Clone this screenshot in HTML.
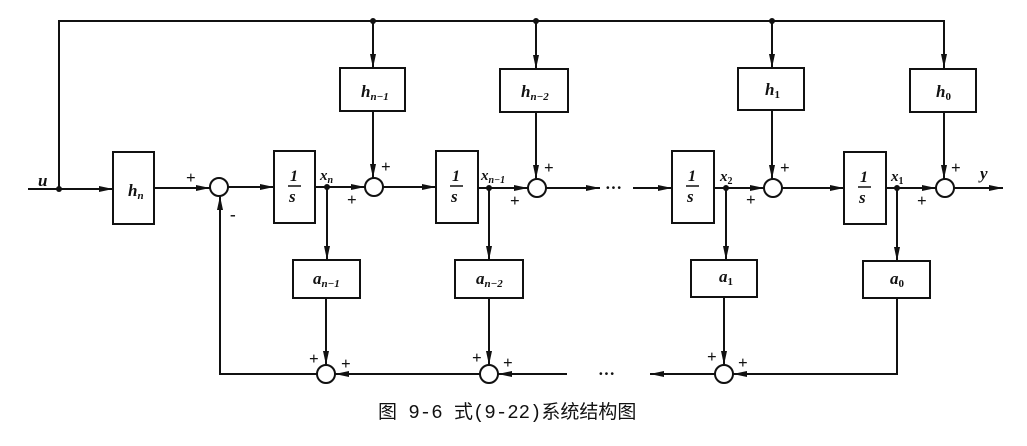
<!DOCTYPE html>
<html><head><meta charset="utf-8"><style>
body{margin:0;background:#fff;width:1027px;height:441px;overflow:hidden}
svg text{font-family:"Liberation Serif",serif;font-style:italic;fill:#111;font-weight:bold}
.p{font-style:normal;font-size:17px;font-weight:bold}
.cap{font-family:"Liberation Mono","Noto Sans CJK SC",monospace;font-style:normal;font-size:19px;font-weight:normal}
</style></head><body>
<svg width="1027" height="441" viewBox="0 0 1027 441" xmlns="http://www.w3.org/2000/svg">
<defs><marker id="a" viewBox="0 0 14 7" refX="14" refY="3.5" markerWidth="14" markerHeight="7" markerUnits="userSpaceOnUse" orient="auto"><path d="M0,0.5L14,3.5L0,6.5z" fill="#111"/></marker></defs>
<g stroke="#111" stroke-width="2" fill="none">
<path d="M59,189 V21 H944 V68" marker-end="url(#a)"/>
<path d="M373,21 V68" marker-end="url(#a)"/>
<path d="M536,21 V69" marker-end="url(#a)"/>
<path d="M772,21 V68" marker-end="url(#a)"/>
<path d="M28,189 H113" marker-end="url(#a)"/>
<path d="M154,188 H210" marker-end="url(#a)"/>
<path d="M228,187 H274" marker-end="url(#a)"/>
<path d="M315,187 H365" marker-end="url(#a)"/>
<path d="M383,187 H436" marker-end="url(#a)"/>
<path d="M478,188 H528" marker-end="url(#a)"/>
<path d="M546,188 H600" marker-end="url(#a)"/>
<path d="M633,188 H672" marker-end="url(#a)"/>
<path d="M714,188 H764" marker-end="url(#a)"/>
<path d="M782,188 H844" marker-end="url(#a)"/>
<path d="M886,188 H936" marker-end="url(#a)"/>
<path d="M954,188 H1003" marker-end="url(#a)"/>
<path d="M373,111 V178" marker-end="url(#a)"/>
<path d="M536,112 V179" marker-end="url(#a)"/>
<path d="M772,110 V179" marker-end="url(#a)"/>
<path d="M944,112 V179" marker-end="url(#a)"/>
<path d="M327,187 V260" marker-end="url(#a)"/>
<path d="M489,188 V260" marker-end="url(#a)"/>
<path d="M726,188 V260" marker-end="url(#a)"/>
<path d="M897,188 V261" marker-end="url(#a)"/>
<path d="M326,298 V365" marker-end="url(#a)"/>
<path d="M489,298 V365" marker-end="url(#a)"/>
<path d="M724,297 V365" marker-end="url(#a)"/>
<path d="M897,298 V374 H733" marker-end="url(#a)"/>
<path d="M715,374 H650" marker-end="url(#a)"/>
<path d="M567,374 H498" marker-end="url(#a)"/>
<path d="M480,374 H335" marker-end="url(#a)"/>
<path d="M317,374 H220 V196" marker-end="url(#a)"/>
<rect x="113" y="152" width="41" height="72"/>
<rect x="274" y="151" width="41" height="72"/>
<rect x="436" y="151" width="42" height="72"/>
<rect x="672" y="151" width="42" height="72"/>
<rect x="844" y="152" width="42" height="72"/>
<rect x="340" y="68" width="65" height="43"/>
<rect x="500" y="69" width="68" height="43"/>
<rect x="738" y="68" width="66" height="42"/>
<rect x="910" y="69" width="66" height="43"/>
<rect x="293" y="260" width="67" height="38"/>
<rect x="455" y="260" width="68" height="38"/>
<rect x="691" y="260" width="66" height="37"/>
<rect x="863" y="261" width="67" height="37"/>
<circle cx="219" cy="187" r="9" fill="#fff"/>
<circle cx="374" cy="187" r="9" fill="#fff"/>
<circle cx="537" cy="188" r="9" fill="#fff"/>
<circle cx="773" cy="188" r="9" fill="#fff"/>
<circle cx="945" cy="188" r="9" fill="#fff"/>
<circle cx="326" cy="374" r="9" fill="#fff"/>
<circle cx="489" cy="374" r="9" fill="#fff"/>
<circle cx="724" cy="374" r="9" fill="#fff"/>
<path d="M288,186 H301 M450,186 H463 M686,186 H699 M858,187 H871" stroke-width="1.5"/>
</g>
<g fill="#111">
<circle cx="59" cy="189" r="3"/><circle cx="373" cy="21" r="3"/><circle cx="536" cy="21" r="3"/><circle cx="772" cy="21" r="3"/>
<circle cx="327" cy="187" r="3"/><circle cx="489" cy="188" r="3"/><circle cx="726" cy="188" r="3"/><circle cx="897" cy="188" r="3"/>
</g>
<g font-size="17">
<text x="38" y="186">u</text>
<text x="128" y="196">h<tspan font-size="11" dy="3">n</tspan></text>
<text x="290" y="181" font-style="normal" font-size="16">1</text><text x="289" y="202">s</text>
<text x="452" y="181" font-style="normal" font-size="16">1</text><text x="451" y="202">s</text>
<text x="688" y="181" font-style="normal" font-size="16">1</text><text x="687" y="202">s</text>
<text x="860" y="182" font-style="normal" font-size="16">1</text><text x="859" y="203">s</text>
<text x="320" y="180" font-size="15">x<tspan font-size="10" dy="3">n</tspan></text>
<text x="481" y="180" font-size="15">x<tspan font-size="10" dy="3">n−1</tspan></text>
<text x="720" y="181" font-size="15">x<tspan font-size="10" dy="3" font-style="normal">2</tspan></text>
<text x="891" y="181" font-size="15">x<tspan font-size="10" dy="3" font-style="normal">1</tspan></text>
<text x="980" y="179">y</text>
<text x="361" y="97">h<tspan font-size="11" dy="3">n−1</tspan></text>
<text x="521" y="97">h<tspan font-size="11" dy="3">n−2</tspan></text>
<text x="765" y="95">h<tspan font-size="11" dy="3" font-style="normal">1</tspan></text>
<text x="936" y="97">h<tspan font-size="11" dy="3" font-style="normal">0</tspan></text>
<text x="313" y="284">a<tspan font-size="11" dy="3">n−1</tspan></text>
<text x="476" y="284">a<tspan font-size="11" dy="3">n−2</tspan></text>
<text x="719" y="282">a<tspan font-size="11" dy="3" font-style="normal">1</tspan></text>
<text x="890" y="284">a<tspan font-size="11" dy="3" font-style="normal">0</tspan></text>
</g>
<text class="p" x="186" y="183">+</text><text class="p" x="230" y="220">-</text>
<text class="p" x="381" y="172">+</text><text class="p" x="347" y="205">+</text>
<text class="p" x="544" y="173">+</text><text class="p" x="510" y="206">+</text>
<text class="p" x="780" y="173">+</text><text class="p" x="746" y="205">+</text>
<text class="p" x="951" y="173">+</text><text class="p" x="917" y="206">+</text>
<text class="p" x="309" y="364">+</text><text class="p" x="341" y="369">+</text>
<text class="p" x="472" y="363">+</text><text class="p" x="503" y="368">+</text>
<text class="p" x="707" y="362">+</text><text class="p" x="738" y="368">+</text>
<text class="p" x="605" y="193">···</text><text class="p" x="598" y="379">···</text>
<text class="cap" x="378" y="418">图 9-6  式(9-22)系统结构图</text>
</svg>
</body></html>
